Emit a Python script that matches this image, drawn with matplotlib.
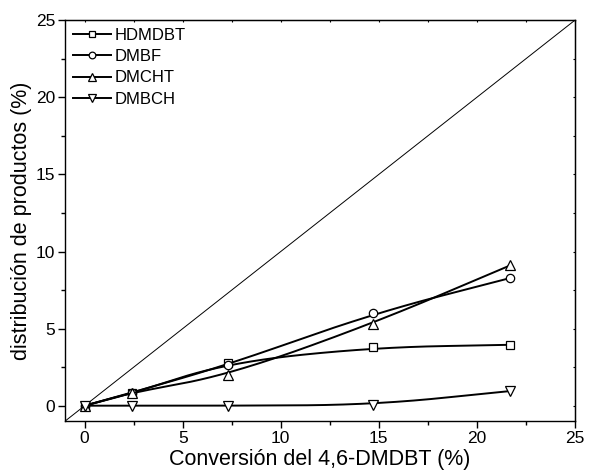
import numpy as np
import matplotlib
matplotlib.use("Agg")
import matplotlib.pyplot as plt
from matplotlib.ticker import MultipleLocator

plt.rcParams['font.family'] = ['Liberation Sans', 'DejaVu Sans']

conversion = [0.0, 2.4, 7.3, 14.7, 21.7]
hdmdbt = [0.0, 0.8, 2.8, 3.78, 3.95]
dmbf = [0.0, 0.85, 2.65, 5.98, 8.28]
dmcht = [0.0, 0.85, 1.98, 5.33, 9.1]
dmbch = [0.0, 0.0, 0.0, 0.05, 0.95]

series = [
    ("HDMDBT", hdmdbt, "s", 5.5),
    ("DMBF", dmbf, "o", 6),
    ("DMCHT", dmcht, "^", 6.5),
    ("DMBCH", dmbch, "v", 6.5),
]


def bspline_path(x, y, iterations=5):
    """Chaikin corner cutting: a quadratic B-spline with the data as control points."""
    pts = np.column_stack([x, y]).astype(float)
    for _ in range(iterations):
        q = 0.75 * pts[:-1] + 0.25 * pts[1:]
        r = 0.25 * pts[:-1] + 0.75 * pts[1:]
        mid = np.empty((2 * len(q), 2))
        mid[0::2] = q
        mid[1::2] = r
        pts = np.vstack([pts[:1], mid, pts[-1:]])
    return pts[:, 0], pts[:, 1]


fig = plt.figure(figsize=(5.97, 4.70), dpi=100)
ax = fig.add_axes([0.109, 0.104, 0.854, 0.853])

# reference line y = x
ax.plot([-1, 25], [-1, 25], color='black', lw=0.7)

for name, vals, mk, ms in series:
    cx, cy = bspline_path(conversion, vals)
    ax.plot(cx, cy, color='black', lw=1.4)
    ax.plot(conversion, vals, linestyle='none', marker=mk, ms=ms,
            mfc='white', mec='black', mew=0.9)

handles = []
for name, vals, mk, ms in series:
    h, = ax.plot([], [], color='black', lw=1.4, marker=mk, ms=ms - 1.2,
                 mfc='white', mec='black', mew=0.9, label=name)
    handles.append(h)
ax.legend(handles=handles, loc='upper left', frameon=False, fontsize=12,
          handlelength=2.3, handletextpad=0.2, labelspacing=0.38,
          borderaxespad=0.25, borderpad=0.2)

ax.set_xlim(-1, 25)
ax.set_ylim(-1, 25)
ax.xaxis.set_major_locator(MultipleLocator(5))
ax.xaxis.set_minor_locator(MultipleLocator(2.5))
ax.yaxis.set_major_locator(MultipleLocator(5))
ax.yaxis.set_minor_locator(MultipleLocator(2.5))
ax.tick_params(which='both', direction='out', labelsize=12.5, width=1.0,
               pad=2)
ax.tick_params(which='major', length=5)
ax.tick_params(which='minor', length=3)
for s in ax.spines.values():
    s.set_linewidth(1.0)

# tiny mirrored ticks on the top and right frame
ax_top = ax.secondary_xaxis('top')
ax_top.xaxis.set_major_locator(MultipleLocator(2.5))
ax_top.tick_params(direction='in', length=1.5, labeltop=False)
ax_right = ax.secondary_yaxis('right')
ax_right.yaxis.set_major_locator(MultipleLocator(2.5))
ax_right.tick_params(direction='in', length=1.5, labelright=False)

ax.set_xlabel('Conversión del 4,6-DMDBT (%)', fontsize=15.5, labelpad=2)
ax.set_ylabel('distribución de productos (%)', fontsize=15.5, labelpad=3)

fig.savefig('out.png', dpi=100)
